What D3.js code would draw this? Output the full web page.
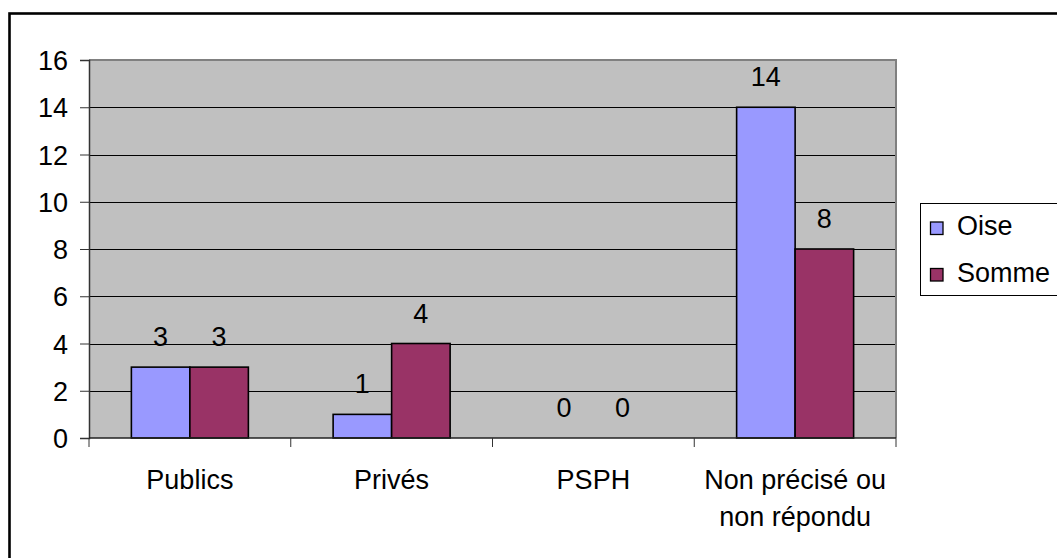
<!DOCTYPE html>
<html><head><meta charset="utf-8">
<script src="https://cdn.jsdelivr.net/npm/d3@7"></script>
<style>body{margin:0;background:#fff;overflow:hidden}svg{display:block;font-family:"Liberation Sans",Arial,sans-serif}</style>
</head><body>
<svg id="chart" width="1057" height="558"></svg>
<script>
const categories = [["Publics"], ["Privés"], ["PSPH"], ["Non précisé ou", "non répondu"]];
const seriesNames = ["Oise", "Somme"];
const oise = [3, 1, 0, 14];
const somme = [3, 4, 0, 8];
const yTicks = [0, 2, 4, 6, 8, 10, 12, 14, 16];
const colors = ["#9999FF", "#993366"];

const svg = d3.select("#chart");
const fs = 27;
const plot = {left: 89, right: 896, top: 60, bottom: 438};

// outer frame
svg.append("rect").attr("x", 9.5).attr("y", 13.5).attr("width", 1100).attr("height", 600)
  .attr("fill", "#fff").attr("stroke", "#000").attr("stroke-width", 2.6);

const x = d3.scaleBand().domain(d3.range(categories.length)).range([plot.left, plot.right]);
const y = d3.scaleLinear().domain([0, 16]).range([plot.bottom, plot.top]);

svg.append("rect").attr("x", plot.left).attr("y", plot.top)
  .attr("width", plot.right - plot.left).attr("height", plot.bottom - plot.top).attr("fill", "#C0C0C0");

// gridlines
svg.append("g").selectAll("line").data(yTicks.filter(t => t > 0 && t < 16)).join("line")
  .attr("x1", plot.left).attr("x2", plot.right).attr("y1", d => Math.round(y(d)) + 0.5).attr("y2", d => Math.round(y(d)) + 0.5)
  .attr("stroke", "#000").attr("stroke-width", 1);
// top & right border gray
svg.append("path").attr("d", `M${plot.left},${plot.top} H${plot.right} V${plot.bottom}`)
  .attr("fill", "none").attr("stroke", "#808080").attr("stroke-width", 2);

// bars
const inner = 117;
const bw = inner / 2;
const data = categories.map((c, i) => [oise[i], somme[i]]);
const groups = svg.append("g").selectAll("g").data(data).join("g");
groups.each(function(vals, i) {
  const cx = x(i) + x.bandwidth() / 2;
  const g = d3.select(this);
  vals.forEach((v, s) => {
    const bx = cx - inner / 2 + s * bw;
    if (v > 0) {
      g.append("rect").attr("x", bx).attr("y", y(v)).attr("width", bw).attr("height", y(0) - y(v))
        .attr("fill", colors[s]).attr("stroke", "#000").attr("stroke-width", 1.6);
    }
    g.append("text").attr("x", bx + bw / 2).attr("y", y(v) - 21).attr("text-anchor", "middle")
      .attr("font-size", fs).attr("fill", "#000").text(v);
  });
});

// y axis
const yAxis = d3.axisLeft(y).tickValues(yTicks).tickSize(9).tickPadding(12);
const ya = svg.append("g").attr("transform", `translate(${plot.left},0)`).call(yAxis);
ya.select(".domain").attr("stroke", "#333").attr("stroke-width", 1.5);
ya.selectAll(".tick line").attr("stroke", "#333");
ya.selectAll("text").attr("font-size", fs).attr("fill", "#000").attr("font-family", "Liberation Sans, Arial, sans-serif").attr("dy", "0.36em");

// x axis
svg.append("line").attr("x1", plot.left).attr("x2", plot.right).attr("y1", plot.bottom).attr("y2", plot.bottom)
  .attr("stroke", "#222").attr("stroke-width", 1.6);
const bounds = d3.range(categories.length + 1).map(i => i < categories.length ? x(i) : plot.right);
svg.append("g").selectAll("line").data(bounds).join("line")
  .attr("x1", d => d).attr("x2", d => d).attr("y1", plot.bottom).attr("y2", plot.bottom + 9)
  .attr("stroke", "#333").attr("stroke-width", 1);
svg.append("g").selectAll("text").data(categories).join("text")
  .attr("x", (d, i) => x(i) + x.bandwidth() / 2).attr("y", 489).attr("text-anchor", "middle")
  .attr("font-size", fs).attr("fill", "#000")
  .each(function(lines) {
    d3.select(this).selectAll("tspan").data(lines).join("tspan")
      .attr("x", d3.select(this).attr("x")).attr("dy", (d, j) => j === 0 ? 0 : 37).text(d => d);
  });

// legend
const lg = svg.append("g");
lg.append("rect").attr("x", 920.5).attr("y", 203.5).attr("width", 200).attr("height", 92)
  .attr("fill", "#fff").attr("stroke", "#000").attr("stroke-width", 1);
seriesNames.forEach((n, i) => {
  const yy = 222 + i * 46.5;
  lg.append("rect").attr("x", 930.5).attr("y", yy).attr("width", 12.5).attr("height", 12.5)
    .attr("fill", colors[i]).attr("stroke", "#000").attr("stroke-width", 1.3);
  lg.append("text").attr("x", 957).attr("y", yy + 13).attr("font-size", fs).attr("fill", "#000").text(n);
});
</script>
</body></html>
